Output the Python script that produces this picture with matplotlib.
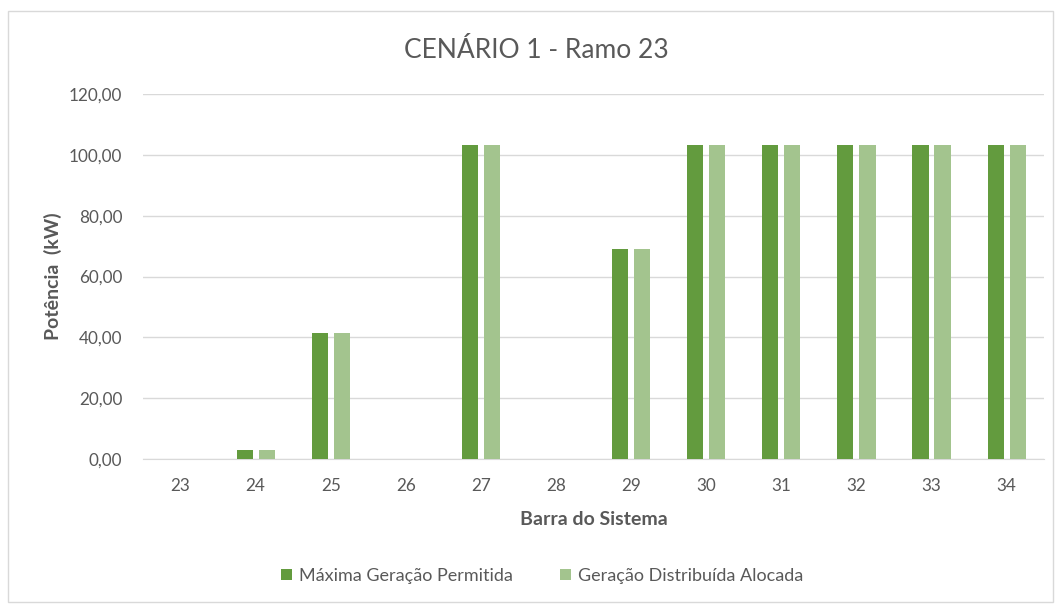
import numpy as np
import matplotlib
matplotlib.use("Agg")
import matplotlib.pyplot as plt
from matplotlib.patches import Rectangle

barras = ["23", "24", "25", "26", "27", "28", "29", "30", "31", "32", "33", "34"]
maxima = [0, 3.0, 41.3, 0, 103.2, 0, 69.0, 103.2, 103.2, 103.2, 103.2, 103.2]
alocada = [0, 3.0, 41.3, 0, 103.2, 0, 69.0, 103.2, 103.2, 103.2, 103.2, 103.2]

plt.rcParams['font.family'] = ['Lato', 'DejaVu Sans']
txt = '#595959'

fig = plt.figure(figsize=(10.59, 6.05), dpi=100)
ax = fig.add_axes([0.135, 0.2413, 0.851, 0.6033])

# borda do gráfico
fig.patches.append(Rectangle((8 / 1059, 0.005), 1045 / 1059, 1 - 11 / 605 - 0.005,
                             transform=fig.transFigure, fill=False,
                             edgecolor='#d9d9d9', linewidth=1))

x = np.arange(len(barras))
w = 0.215
ax.bar(x - 0.147, maxima, w, color='#639b3e', label='Máxima Geração Permitida', zorder=3)
ax.bar(x + 0.147, alocada, w, color='#a3c48e', label='Geração Distribuída Alocada', zorder=3)

ax.set_xlim(-0.5, len(barras) - 0.5)
ax.set_ylim(0, 120)
ax.set_yticks(np.arange(0, 121, 20))
ax.set_yticklabels([f"{v:.2f}".replace('.', ',') for v in np.arange(0, 121, 20)])
ax.set_xticks(x)
ax.set_xticklabels(barras)
ax.grid(axis='y', color='#d9d9d9', linewidth=1, zorder=0)
for s in ['top', 'right', 'left']:
    ax.spines[s].set_visible(False)
ax.spines['bottom'].set_color('#d9d9d9')
ax.tick_params(length=0, colors=txt, labelsize=12.3)
ax.tick_params(axis='y', pad=15)
ax.tick_params(axis='x', pad=14)

fig.text(536 / 1059, 1 - 50 / 605, 'CENÁRIO 1 - Ramo 23', fontsize=19, color=txt,
         ha='center', va='center')
ax.set_xlabel('Barra do Sistema', fontsize=14, fontweight='bold', color=txt, labelpad=12)
ax.set_ylabel('Potência  (kW)', fontsize=14, fontweight='bold', color=txt, labelpad=5)

ax.legend(loc='center', bbox_to_anchor=(0.443, -0.32), ncol=2, frameon=False,
          fontsize=13, labelcolor=txt, handlelength=0.6, handleheight=0.6,
          columnspacing=2.6, handletextpad=0.4)

fig.savefig('out.png', dpi=100)
